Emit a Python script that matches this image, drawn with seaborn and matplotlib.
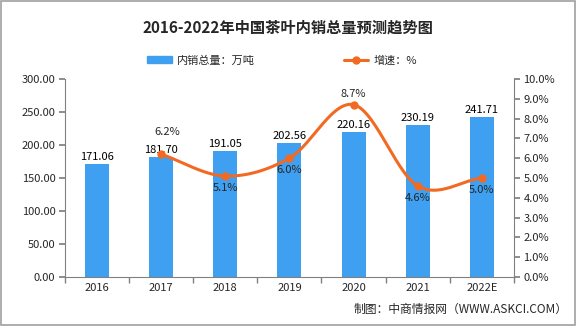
import numpy as np
import pandas as pd
import matplotlib
matplotlib.use("Agg")
import matplotlib.pyplot as plt
import seaborn as sns

years = ["2016", "2017", "2018", "2019", "2020", "2021", "2022E"]
volume = [171.06, 181.70, 191.05, 202.56, 220.16, 230.19, 241.71]
growth_years = ["2017", "2018", "2019", "2020", "2021", "2022E"]
growth = [6.2, 5.1, 6.0, 8.7, 4.6, 5.0]
growth_label_dy = [0.85, -0.35, -0.35, 0.3, -0.35, -0.35]
growth_label_dx = [0.1, 0, 0, 0, 0, 0]

sns.set_theme(style="white")
plt.rcParams['font.family'] = ['Noto Sans CJK SC', 'DejaVu Sans']

fig = plt.figure(figsize=(5.76, 3.26), dpi=100)
ax = fig.add_axes([0.113, 0.150, 0.779, 0.608])

bar_color = "#3f9ff0"
line_color = "#f26a21"

df = pd.DataFrame({"year": years, "volume": volume})
sns.barplot(data=df, x="year", y="volume", ax=ax, color=bar_color, width=0.375,
            saturation=1, edgecolor="none")
ax.set_ylim(0, 300)
ax.set_yticks(np.arange(0, 301, 50))
ax.set_yticklabels([f"{v:.2f}" for v in np.arange(0, 301, 50)], fontsize=8)
ax.set_xlim(-0.5, len(years) - 0.5)
ax.set_xlabel("")
ax.set_ylabel("")
ax.tick_params(axis="x", labelsize=8, length=4, color="#808080", direction="out", bottom=True, pad=4)
ax.tick_params(axis="y", length=4, color="#808080", direction="out", left=True, pad=3)
ax.set_xticks(np.arange(-0.5, len(years), 1), minor=True)
ax.tick_params(axis="x", which="major", length=0)
ax.tick_params(axis="x", which="minor", length=4, color="#808080", bottom=True)
for s in ["top", "right"]:
    ax.spines[s].set_visible(False)
for s in ["left", "bottom"]:
    ax.spines[s].set_color("#808080")
    ax.spines[s].set_linewidth(0.8)

for i, v in enumerate(volume):
    ax.text(i, v + 3, f"{v:.2f}", ha="center", va="bottom", fontsize=8, color="#000000")

ax2 = ax.twinx()
ax2.set_ylim(0, 10)
ax2.set_yticks(np.arange(0, 11, 1))
ax2.set_yticklabels([f"{v:.1f}%" for v in np.arange(0, 11, 1)], fontsize=8)
ax2.tick_params(axis="y", length=4, color="#808080", direction="out", right=True, pad=3)
for s in ["top", "left", "bottom"]:
    ax2.spines[s].set_visible(False)
ax2.spines["right"].set_color("#808080")
ax2.spines["right"].set_linewidth(0.8)
ax2.grid(False)
ax.grid(False)

# smooth curve (Catmull-Rom) through the data points
xs = np.array([years.index(y) for y in growth_years], dtype=float)
ys = np.array(growth, dtype=float)
px = np.concatenate([[2 * xs[0] - xs[1]], xs, [2 * xs[-1] - xs[-2]]])
py = np.concatenate([[2 * ys[0] - ys[1]], ys, [2 * ys[-1] - ys[-2]]])
cx, cy = [], []
for i in range(1, len(px) - 2):
    t = np.linspace(0, 1, 30)
    p0, p1, p2, p3 = py[i - 1], py[i], py[i + 1], py[i + 2]
    q0, q1, q2, q3 = px[i - 1], px[i], px[i + 1], px[i + 2]
    f = lambda a0, a1, a2, a3: 0.5 * ((2 * a1) + (-a0 + a2) * t + (2 * a0 - 5 * a1 + 4 * a2 - a3) * t ** 2 + (-a0 + 3 * a1 - 3 * a2 + a3) * t ** 3)
    cx.extend(f(q0, q1, q2, q3))
    cy.extend(f(p0, p1, p2, p3))
sns.lineplot(x=cx, y=cy, ax=ax2, color=line_color, linewidth=2.2, sort=False, estimator=None)
ax2.plot(xs, ys, "o", color=line_color, markersize=5, zorder=5)

for x, y, dy, dx in zip(xs, ys, growth_label_dy, growth_label_dx):
    ax2.text(x + dx, y + dy, f"{y:.1f}%", ha="center",
             va="bottom" if dy > 0 else "top", fontsize=8)

fig.text(0.5, 0.915, "2016-2022年中国茶叶内销总量预测趋势图", ha="center", va="center",
         fontsize=11, fontweight="bold")

from matplotlib.patches import Patch
from matplotlib.lines import Line2D
handles = [Patch(color=bar_color, label="内销总量：万吨"),
           Line2D([0], [0], color=line_color, lw=2.2, marker="o", markersize=5, label="增速：%")]
fig.legend(handles=handles, loc="center", bbox_to_anchor=(0.49, 0.815), ncol=2, frameon=False,
           fontsize=8, handlelength=2.2, columnspacing=8, handletextpad=0.5)

fig.text(0.985, 0.03, "制图：中商情报网（WWW.ASKCI.COM）", ha="right", va="bottom", fontsize=8.5)

border = plt.Rectangle((0.001, 0.002), 0.997, 0.995, transform=fig.transFigure, fill=False,
                       edgecolor="#a0a0a0", linewidth=1.2)
fig.patches.append(border)

fig.savefig("out.png", dpi=100)
